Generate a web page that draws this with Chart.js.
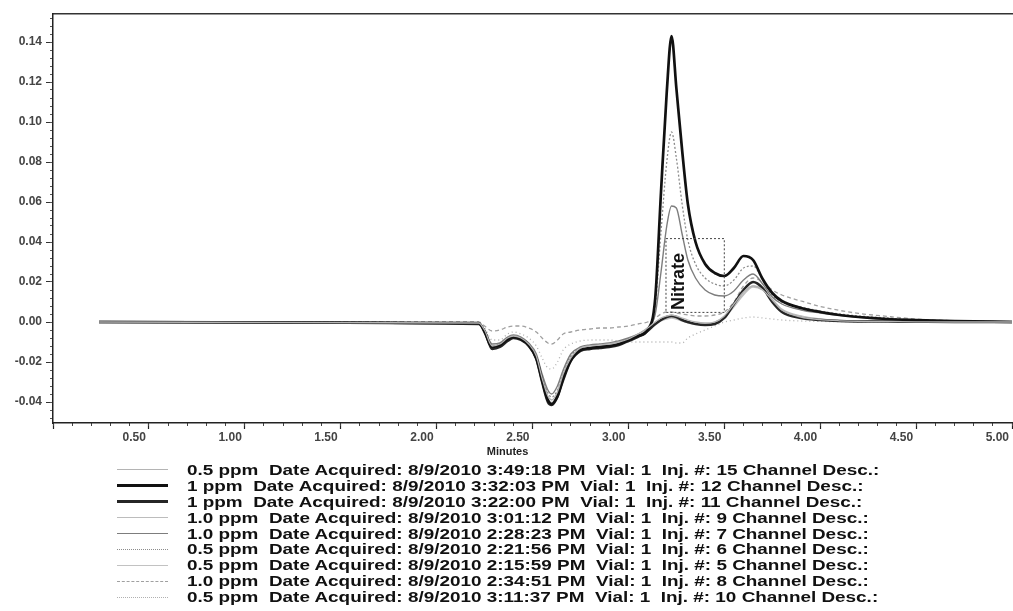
<!DOCTYPE html>
<html>
<head>
<meta charset="utf-8">
<script src="https://cdn.jsdelivr.net/npm/chart.js@4"></script>
<style>
  html, body { margin: 0; padding: 0; background: #fff; }
  #wrap { position: relative; width: 1013px; height: 611px; overflow: hidden; }
  #chart { position: absolute; left: 0; top: 0; }
  #legend {
    position: absolute; left: 117px; top: 462px;
    font: bold 14px "Liberation Sans", Arial, sans-serif; color: #111;
  }
  .row { display: flex; align-items: center; height: 15.9px; white-space: pre; }
  .sample { width: 51px; height: 0; margin-right: 19px; }
  .text { display: inline-block; transform: scaleX(1.35); transform-origin: left center; }
</style>
</head>
<body>
<div id="wrap">
  <canvas id="chart" width="1013" height="611"></canvas>
  <div id="legend"></div>
</div>
<script>
const FONT = '"Liberation Sans", Arial, sans-serif';

// retention time grid (minutes), shared by every trace
const minutes = [
  0.24, 2.22, 2.25, 2.29, 2.33, 2.37, 2.40, 2.44, 2.48, 2.52, 2.55, 2.58,
  2.60, 2.63, 2.66, 2.70, 2.75, 2.80, 2.85, 2.90, 2.95, 3.00, 3.05, 3.10,
  3.14, 3.17, 3.20, 3.225, 3.25, 3.28, 3.31, 3.35, 3.40, 3.45, 3.50, 3.55,
  3.60, 3.65, 3.70, 3.75, 3.80, 3.90, 4.00, 4.10, 4.20, 4.35, 4.50, 4.70, 5.00
];

// detector response (AU) per injection
const inj15 = [
  0, -0.0005, -0.004, -0.012, -0.011, -0.008, -0.007, -0.008, -0.011, -0.017, -0.028, -0.037,
  -0.039, -0.035, -0.026, -0.018, -0.013, -0.012, -0.0115, -0.011, -0.010, -0.0085, -0.006, -0.003,
  0.000, 0.002, 0.003, 0.0035, 0.003, 0.002, 0.001, 0.000, -0.0005, 0.000, 0.003, 0.009,
  0.015, 0.018, 0.016, 0.011, 0.006, 0.0025, 0.0012, 0.0006, 0.0003, 0.0002, 0.0001, 0, 0
];
const inj12 = [
  0, -0.0005, -0.005, -0.0125, -0.0115, -0.0085, -0.0075, -0.0085, -0.0115, -0.018, -0.029, -0.039,
  -0.041, -0.037, -0.028, -0.019, -0.014, -0.013, -0.0125, -0.012, -0.011, -0.009, -0.007, -0.004,
  0.012, 0.065, 0.115, 0.143, 0.117, 0.086, 0.059, 0.040, 0.029, 0.0245, 0.023, 0.027,
  0.033, 0.031, 0.0215, 0.0145, 0.0105, 0.007, 0.005, 0.0035, 0.0025, 0.0015, 0.001, 0.0005, 0
];
const inj11 = [
  0, -0.001, -0.0045, -0.0135, -0.0125, -0.0095, -0.008, -0.009, -0.012, -0.0185, -0.030, -0.040,
  -0.0415, -0.0375, -0.029, -0.0195, -0.0145, -0.0135, -0.013, -0.0125, -0.0115, -0.0095, -0.0075, -0.0045,
  -0.001, 0.001, 0.0025, 0.003, 0.0025, 0.001, 0.000, -0.001, -0.0015, -0.001, 0.002, 0.009,
  0.016, 0.020, 0.017, 0.010, 0.005, 0.002, 0.001, 0.0005, 0.0003, 0.0002, 0.0001, 0, 0
];
const inj9 = [
  0, -0.001, -0.005, -0.013, -0.012, -0.009, -0.0078, -0.0088, -0.0118, -0.018, -0.029, -0.0385,
  -0.0405, -0.0365, -0.0275, -0.0185, -0.014, -0.013, -0.012, -0.0115, -0.0105, -0.009, -0.0065, -0.0035,
  -0.001, 0.001, 0.002, 0.0025, 0.002, 0.001, 0.000, -0.0005, -0.001, 0.000, 0.0025, 0.008,
  0.014, 0.018, 0.0165, 0.0115, 0.0065, 0.003, 0.0015, 0.0008, 0.0004, 0.0002, 0.0001, 0, 0
];
const inj7 = [
  0, -0.0005, -0.004, -0.011, -0.0105, -0.0075, -0.0065, -0.0075, -0.0105, -0.016, -0.026, -0.034,
  -0.036, -0.032, -0.024, -0.016, -0.0125, -0.0115, -0.011, -0.0105, -0.0095, -0.008, -0.006, -0.003,
  0.004, 0.025, 0.048, 0.058, 0.057, 0.044, 0.031, 0.022, 0.016, 0.0135, 0.013, 0.0155,
  0.021, 0.024, 0.019, 0.0125, 0.009, 0.006, 0.0045, 0.0033, 0.0024, 0.0015, 0.0008, 0.0003, 0
];
const inj6 = [
  0, -0.0005, -0.0045, -0.012, -0.0115, -0.0085, -0.0072, -0.0082, -0.0112, -0.017, -0.027, -0.0355,
  -0.0375, -0.034, -0.025, -0.017, -0.013, -0.012, -0.0115, -0.011, -0.010, -0.0085, -0.0065, -0.0035,
  0.008, 0.045, 0.080, 0.095, 0.082, 0.059, 0.041, 0.029, 0.022, 0.019, 0.018, 0.021,
  0.027, 0.028, 0.021, 0.0135, 0.010, 0.0075, 0.0055, 0.004, 0.003, 0.002, 0.001, 0.0004, 0
];
const inj5 = [
  0, -0.001, -0.0045, -0.0125, -0.0118, -0.0088, -0.0076, -0.0086, -0.0116, -0.0178, -0.0288, -0.0382,
  -0.0402, -0.0362, -0.0272, -0.0185, -0.0138, -0.0128, -0.0122, -0.0118, -0.0108, -0.0092, -0.007, -0.004,
  -0.0015, 0.0005, 0.0015, 0.002, 0.0015, 0.0005, -0.0005, -0.001, -0.0012, -0.0005, 0.002, 0.0075,
  0.0135, 0.0175, 0.016, 0.011, 0.006, 0.0028, 0.0014, 0.0007, 0.0004, 0.0002, 0.0001, 0, 0
];
const inj8 = [
  0, 0, -0.002, -0.0045, -0.004, -0.0025, -0.002, -0.002, -0.003, -0.005, -0.008, -0.0105,
  -0.011, -0.009, -0.006, -0.005, -0.004, -0.0035, -0.003, -0.003, -0.0025, -0.002, -0.001, 0.000,
  0.002, 0.004, 0.005, 0.005, 0.0045, 0.004, 0.0035, 0.003, 0.003, 0.0035, 0.005, 0.010,
  0.018, 0.022, 0.020, 0.016, 0.0135, 0.0105, 0.0078, 0.0058, 0.0043, 0.0028, 0.0015, 0.0006, 0
];
const inj10 = [
  0, -0.0005, -0.003, -0.009, -0.009, -0.006, -0.005, -0.006, -0.008, -0.012, -0.018, -0.023,
  -0.0235, -0.020, -0.014, -0.011, -0.0095, -0.009, -0.009, -0.009, -0.0095, -0.010, -0.010, -0.010,
  -0.010, -0.010, -0.010, -0.010, -0.0105, -0.0105, -0.008, -0.006, -0.004, -0.002, 0.000, 0.001,
  0.002, 0.0025, 0.002, 0.0015, 0.001, 0.0005, 0.0003, 0.0002, 0.0001, 0, 0, 0, 0
];

const seriesValues = [inj15, inj12, inj11, inj9, inj7, inj6, inj5, inj8, inj10];
const seriesLabels = [
  "0.5 ppm  Date Acquired: 8/9/2010 3:49:18 PM  Vial: 1  Inj. #: 15 Channel Desc.:",
  "1 ppm  Date Acquired: 8/9/2010 3:32:03 PM  Vial: 1  Inj. #: 12 Channel Desc.:",
  "1 ppm  Date Acquired: 8/9/2010 3:22:00 PM  Vial: 1  Inj. #: 11 Channel Desc.:",
  "1.0 ppm  Date Acquired: 8/9/2010 3:01:12 PM  Vial: 1  Inj. #: 9 Channel Desc.:",
  "1.0 ppm  Date Acquired: 8/9/2010 2:28:23 PM  Vial: 1  Inj. #: 7 Channel Desc.:",
  "0.5 ppm  Date Acquired: 8/9/2010 2:21:56 PM  Vial: 1  Inj. #: 6 Channel Desc.:",
  "0.5 ppm  Date Acquired: 8/9/2010 2:15:59 PM  Vial: 1  Inj. #: 5 Channel Desc.:",
  "1.0 ppm  Date Acquired: 8/9/2010 2:34:51 PM  Vial: 1  Inj. #: 8 Channel Desc.:",
  "0.5 ppm  Date Acquired: 8/9/2010 3:11:37 PM  Vial: 1  Inj. #: 10 Channel Desc.:"
];
const seriesColors = ["#b4b4b4", "#111111", "#262626", "#bcbcbc", "#7d7d7d", "#8c8c8c", "#c2c2c2", "#a0a0a0", "#b0b0b0"];
const seriesDash = [[], [], [], [], [], [2, 2], [], [4, 3], [1, 3]];
const seriesWidth = [1.3, 2.7, 2.5, 1.3, 1.4, 1.3, 1.3, 1.3, 1.3];

// peak annotation: [start min, end min, low AU, high AU] and label anchor [min, AU]
const nitrateBox = [3.196, 3.50, 0.0048, 0.0417];
const nitrateLabelAt = [3.266, 0.0202];

const datasets = seriesValues.map((vals, i) => ({
  label: seriesLabels[i],
  data: minutes.map((t, j) => ({ x: t, y: vals[j] })),
  borderColor: seriesColors[i],
  borderWidth: seriesWidth[i],
  borderDash: seriesDash[i],
  pointRadius: 0,
  tension: 0.4,
  cubicInterpolationMode: "monotone",
  fill: false
}));

const labelOn = (v, step) => Math.abs(v / step - Math.round(v / step)) < 1e-6;

const annotations = {
  id: "annotations",
  afterDatasetsDraw(chart) {
    const { ctx, scales: { x, y } } = chart;
    const left = x.getPixelForValue(nitrateBox[0]);
    const right = x.getPixelForValue(nitrateBox[1]);
    const bottom = y.getPixelForValue(nitrateBox[2]);
    const top = y.getPixelForValue(nitrateBox[3]);
    ctx.save();
    ctx.setLineDash([2, 2]);
    ctx.strokeStyle = "#444";
    ctx.lineWidth = 1;
    ctx.strokeRect(left, top, right - left, bottom - top);
    ctx.setLineDash([]);
    ctx.translate(x.getPixelForValue(nitrateLabelAt[0]), y.getPixelForValue(nitrateLabelAt[1]));
    ctx.rotate(-Math.PI / 2);
    ctx.font = `bold 18px ${FONT}`;
    ctx.textAlign = "center";
    ctx.textBaseline = "middle";
    ctx.fillStyle = "#111";
    ctx.fillText("Nitrate", 0, 0);
    ctx.restore();
  },
  afterDraw(chart) {
    const { ctx, chartArea } = chart;
    ctx.save();
    ctx.font = `bold 11px ${FONT}`;
    ctx.fillStyle = "#222";
    ctx.textAlign = "center";
    ctx.textBaseline = "middle";
    ctx.fillText("Minutes", chartArea.left + (chartArea.right - chartArea.left) * 0.474, chartArea.bottom + 29);
    ctx.restore();
  }
};

const tickFont = { family: FONT, size: 12, weight: "bold" };

new Chart(document.getElementById("chart"), {
  type: "line",
  data: { datasets },
  options: {
    responsive: false,
    animation: false,
    layout: { padding: { top: 14, left: 0, right: 0, bottom: 168 } },
    plugins: { legend: { display: false }, tooltip: { enabled: false } },
    scales: {
      x: {
        type: "linear", position: "bottom", min: 0, max: 5, weight: 1,
        afterFit: (s) => { s.height = 20; },
        border: { color: "#222", width: 1.5 },
        grid: { drawOnChartArea: false, tickLength: 6, tickColor: "#222", tickWidth: 1.2 },
        ticks: {
          stepSize: 0.5, includeBounds: false, autoSkip: false, maxRotation: 0,
          align: "end", labelOffset: -3, padding: 1, color: "#444", font: tickFont,
          callback: (v) => (v === 0 ? "" : v.toFixed(2))
        }
      },
      xMinor: {
        type: "linear", position: "bottom", min: 0, max: 5, weight: 0,
        afterFit: (s) => { s.height = 0; },
        border: { display: false },
        grid: { drawOnChartArea: false, tickLength: 3, tickColor: "#444" },
        ticks: { display: false, stepSize: 0.1, includeBounds: false, autoSkip: false }
      },
      xTop: {
        type: "linear", position: "top", min: 0, max: 5,
        afterFit: (s) => { s.height = 0; },
        border: { color: "#333", width: 1.5 },
        grid: { drawOnChartArea: false, drawTicks: false },
        ticks: { display: false }
      },
      y: {
        type: "linear", position: "left", min: -0.0505, max: 0.154, weight: 1,
        afterFit: (s) => { s.width = 53; },
        border: { color: "#222", width: 1.5 },
        grid: { drawOnChartArea: false, tickLength: 7, tickColor: "#333" },
        ticks: {
          stepSize: 0.02, includeBounds: false, padding: 4, color: "#444", font: tickFont,
          callback: (v) => (labelOn(v, 0.02) ? (Math.round(v * 100) / 100 + 0).toFixed(2) : "")
        }
      },
      yMinor: {
        type: "linear", position: "left", min: -0.0505, max: 0.154, weight: 0,
        afterFit: (s) => { s.width = 0; },
        border: { display: false },
        grid: { drawOnChartArea: false, tickLength: 3, tickColor: "#555" },
        ticks: { display: false, stepSize: 0.004, includeBounds: false }
      }
    }
  },
  plugins: [annotations]
});

const legendEl = document.getElementById("legend");
seriesLabels.forEach((label, i) => {
  const row = document.createElement("div");
  row.className = "row";
  const sample = document.createElement("span");
  sample.className = "sample";
  const dash = seriesDash[i];
  const style = dash.length ? (dash[0] <= 2 ? "dotted" : "dashed") : "solid";
  sample.style.borderTop = `${Math.max(1, Math.round(seriesWidth[i]))}px ${style} ${seriesColors[i]}`;
  const text = document.createElement("span");
  text.className = "text";
  text.textContent = label;
  row.appendChild(sample);
  row.appendChild(text);
  legendEl.appendChild(row);
});
</script>
</body>
</html>
